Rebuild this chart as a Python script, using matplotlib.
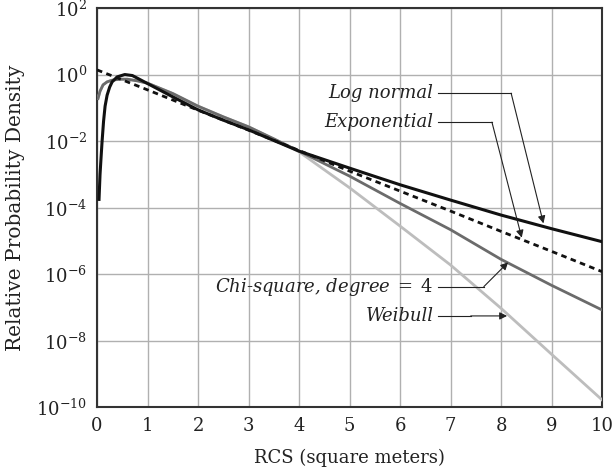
import numpy as np
import matplotlib
matplotlib.use("Agg")
import matplotlib.pyplot as plt

plt.rcParams['font.family'] = 'DejaVu Serif'
plt.rcParams['mathtext.fontset'] = 'dejavuserif'

# values, as log10 of the relative density
lognormal_x = [0.04, 0.06, 0.08, 0.10, 0.13, 0.16, 0.20, 0.25, 0.30, 0.40, 0.55, 0.70,
               1.0, 1.5, 2.0, 2.5, 3.0, 3.5, 4.0, 5.0, 6.0, 7.0, 8.0, 9.0, 10.0]
lognormal_log = [-3.75, -3.0, -2.5, -2.02, -1.4, -0.95, -0.62, -0.38, -0.22, -0.07, 0.0, -0.03,
                 -0.27, -0.67, -1.06, -1.37, -1.66, -1.98, -2.3, -2.81, -3.31, -3.77, -4.22, -4.63, -5.02]

expo_x = [0, 1, 2, 3, 4, 5, 6, 7, 8, 9, 10]
expo_log = [0.14, -0.46, -1.07, -1.67, -2.28, -2.9, -3.5, -4.1, -4.71, -5.31, -5.92]

chi_x = [0.02, 0.06, 0.12, 0.2, 0.3, 0.45, 0.6, 0.8, 1.0, 1.5, 2.0, 2.5, 3.0, 3.5, 4.0,
         5.0, 6.0, 7.0, 8.0, 9.0, 10.0]
chi_log = [-0.72, -0.5, -0.31, -0.22, -0.17, -0.14, -0.14, -0.19, -0.26, -0.57, -0.95, -1.27,
           -1.57, -1.93, -2.3, -3.05, -3.87, -4.66, -5.55, -6.33, -7.07]

weib_x = [0.02, 0.06, 0.12, 0.2, 0.3, 0.45, 0.6, 0.8, 1.0, 1.5, 2.0, 2.5, 3.0, 3.5, 4.0,
          5.0, 6.0, 7.0, 8.0, 9.0, 10.0]
weib_log = [-0.72, -0.5, -0.31, -0.22, -0.17, -0.14, -0.14, -0.19, -0.26, -0.57, -0.95, -1.27,
            -1.57, -1.94, -2.32, -3.4, -4.55, -5.72, -7.02, -8.4, -9.77]

x_ticks = list(range(0, 11))
y_ticks = [1e-10, 1e-8, 1e-6, 1e-4, 1e-2, 1e0, 1e2]

# annotation: label, text y, corner x, arrow tip x, tip y (log10 for y)
labels = ["Log normal", "Exponential", "Chi-square, degree$\\;=\\;4$", "Weibull"]
label_y = [-0.56, -1.43, -6.37, -7.25]
corner_x = [8.2, 7.82, 7.66, 7.4]
tip_x = [8.84, 8.41, 8.14, 8.12]
tip_y = [-4.47, -4.9, -5.64, -7.25]

fig = plt.figure(figsize=(6.12, 4.73), dpi=100)
ax = fig.add_axes([0.1585, 0.1385, 0.8252, 0.8447])

ax.plot(weib_x, 10 ** np.array(weib_log), color='#bdbdbd', lw=2.0, zorder=3)
ax.plot(chi_x, 10 ** np.array(chi_log), color='#6b6b6b', lw=2.0, zorder=4)
ax.plot(expo_x, 10 ** np.array(expo_log), color='#111111', lw=2.0,
        linestyle=(0, (2.0, 1.6)), zorder=5)
ax.plot(lognormal_x, 10 ** np.array(lognormal_log), color='#111111', lw=2.2, zorder=6)

ax.set_yscale('log')
ax.set_xlim(0, 10)
ax.set_ylim(1e-10, 1e2)
ax.set_xticks(x_ticks)
ax.set_yticks(y_ticks)
ax.minorticks_off()
ax.tick_params(length=0, labelsize=13, pad=7, colors='#222222')
ax.grid(True, color='#b0b0b0', lw=1.0)
ax.set_axisbelow(True)
for s in ax.spines.values():
    s.set_color('#333333')
    s.set_linewidth(1.5)

ax.set_xlabel("RCS (square meters)", fontsize=13, color='#222222', labelpad=10)
ax.set_ylabel("Relative Probability Density", fontsize=14.5, color='#222222', labelpad=8)

# labels with arrows
text_x = 6.66
for lab, ly, cx, tx, ty in zip(labels, label_y, corner_x, tip_x, tip_y):
    yy = 10 ** ly
    ax.text(text_x, yy, lab, ha='right', va='center', fontsize=13,
            style='italic', color='#222222', zorder=8)
    ax.plot([text_x + 0.1, cx], [yy, yy], color='#222222', lw=0.8, zorder=8)
    ax.annotate('', xy=(tx, 10 ** ty), xytext=(cx, yy),
                arrowprops=dict(arrowstyle='-|>', color='#222222', lw=0.8,
                                mutation_scale=11, shrinkA=0, shrinkB=0), zorder=8)

plt.savefig('out.png', dpi=100)
